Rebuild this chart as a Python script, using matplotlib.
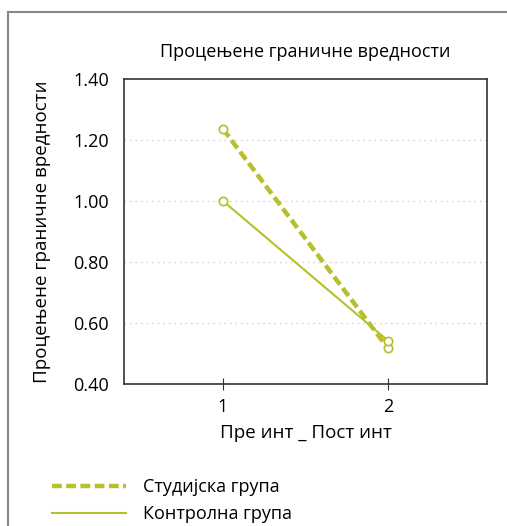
import matplotlib.pyplot as plt
from matplotlib.lines import Line2D

plt.rcParams['font.family'] = ['Open Sans', 'DejaVu Sans']

x = [1, 2]
studijska = [1.236, 0.517]
kontrolna = [1.00, 0.542]
yticks = [0.40, 0.60, 0.80, 1.00, 1.20, 1.40]
green = '#b7bf2d'

W, H = 507, 526
fig = plt.figure(figsize=(W / 100, H / 100), dpi=100)
ax = fig.add_axes([124 / W, 1 - 384 / H, (487 - 124) / W, (384 - 79) / H])

ax.plot(x, studijska, color=green, lw=3.2, ls=(0, (2.2, 1.0)),
        marker='o', mfc='white', mec=green, ms=6, mew=1.2, label='Студијска група')
ax.plot(x, kontrolna, color=green, lw=1.5,
        marker='o', mfc='white', mec=green, ms=6, mew=1.2, label='Контролна група')

ax.set_xlim(0.4, 2.6)
ax.set_ylim(0.40, 1.40)
ax.set_xticks(x)
ax.set_yticks(yticks)
ax.set_yticklabels([f'{v:.2f}' for v in yticks])
ax.tick_params(axis='y', length=0, labelsize=13, pad=11)
ax.tick_params(axis='x', direction='inout', length=8, labelsize=13, pad=6, color='#333333')
for g in yticks[1:-1]:
    ax.axhline(g, color='#cccccc', lw=1, ls=(0, (1, 3)), zorder=0)
for s in ax.spines.values():
    s.set_color('#333333')
    s.set_linewidth(1.2)

ax.set_title('Процењене граничне вредности', fontsize=13, pad=16)
ax.set_xlabel('Пре инт _ Пост инт', fontsize=13.5, labelpad=6)
ax.set_ylabel('Процењене граничне вредности', fontsize=13.5, labelpad=16)

leg = fig.legend(loc='upper left', bbox_to_anchor=(36 / W, 1 - 462 / H), frameon=False,
                 fontsize=13, handlelength=4.1, handletextpad=0.95, labelspacing=0.5)
for h in leg.legend_handles:
    h.set_marker('')

fig.add_artist(Line2D([8 / W, 1], [1 - 12 / H] * 2, color='#888888', lw=1.5))
fig.add_artist(Line2D([8 / W] * 2, [0, 1 - 12 / H], color='#888888', lw=1.5))

fig.savefig('out.png', dpi=100)
